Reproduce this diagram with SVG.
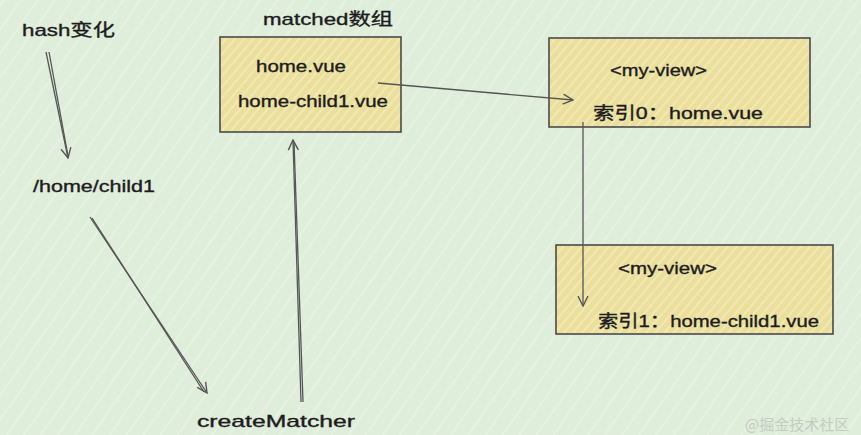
<svg xmlns="http://www.w3.org/2000/svg" width="861" height="435" viewBox="0 0 861 435">
  <defs>
    <pattern id="bgHatch" patternUnits="userSpaceOnUse" width="14" height="14" patternTransform="rotate(-55)">
      <rect width="14" height="14" fill="#dfeddb"/>
      <line x1="0" y1="3" x2="14" y2="3" stroke="#eef6ea" stroke-width="1"/>
    </pattern>
    <pattern id="boxHatch" patternUnits="userSpaceOnUse" width="7" height="7" patternTransform="rotate(-50)">
      <rect width="7" height="7" fill="#ebdf9c"/>
      <line x1="0" y1="2" x2="7" y2="2" stroke="#f4ecbd" stroke-width="1.5"/>
    </pattern>
    <marker id="arrow" viewBox="0 0 12 12" refX="11" refY="6" markerWidth="12" markerHeight="12" markerUnits="userSpaceOnUse" orient="auto">
      <path d="M1,1 L11,6 L1,11" fill="none" stroke="#555" stroke-width="1.4"/>
    </marker>
  </defs>
  <style>
    .t { font-family: "Liberation Sans", "Noto Sans CJK SC", sans-serif; font-size: 17px; fill: #1c1c1c; stroke: #1c1c1c; stroke-width: 0.35; }
    .box { fill: url(#boxHatch); stroke: #4a4a4a; stroke-width: 1.6; }
    .ln { fill: none; stroke: #555; stroke-width: 1.3; }
    .wm { font-family: "Noto Sans CJK SC", sans-serif; font-size: 15px; fill: #c3ccc1; }
  </style>
  <rect width="861" height="435" fill="url(#bgHatch)"/>

  <g id="hash">
    <text class="t" x="22" y="36" textLength="93" lengthAdjust="spacingAndGlyphs">hash变化</text>
  </g>
  <g id="path">
    <text class="t" x="33" y="192" textLength="122" lengthAdjust="spacingAndGlyphs">/home/child1</text>
  </g>
  <g id="matched">
    <text class="t" x="263" y="25" textLength="130" lengthAdjust="spacingAndGlyphs">matched数组</text>
    <rect class="box" x="220" y="37" width="181" height="95"/>
    <text class="t" x="256" y="72" textLength="90" lengthAdjust="spacingAndGlyphs">home.vue</text>
    <text class="t" x="238" y="107" textLength="150" lengthAdjust="spacingAndGlyphs">home-child1.vue</text>
  </g>
  <g id="view0">
    <rect class="box" x="549" y="38" width="261" height="89"/>
    <text class="t" x="610" y="76" textLength="97" lengthAdjust="spacingAndGlyphs">&lt;my-view&gt;</text>
    <text class="t" x="593" y="119" textLength="170" lengthAdjust="spacingAndGlyphs">索引0：home.vue</text>
  </g>
  <g id="view1">
    <rect class="box" x="556" y="245" width="277" height="89"/>
    <text class="t" x="618" y="274" textLength="99" lengthAdjust="spacingAndGlyphs">&lt;my-view&gt;</text>
    <text class="t" x="598" y="327" textLength="221" lengthAdjust="spacingAndGlyphs">索引1：home-child1.vue</text>
  </g>
  <g id="createMatcher">
    <text class="t" x="197" y="427" textLength="158" lengthAdjust="spacingAndGlyphs">createMatcher</text>
  </g>

  <g id="connectors">
    <line class="ln" x1="46" y1="52" x2="68" y2="158" marker-end="url(#arrow)"/>
    <line class="ln" x1="49" y1="52" x2="68" y2="156"/>
    <line class="ln" x1="90" y1="217" x2="207" y2="393" marker-end="url(#arrow)"/>
    <line class="ln" x1="92" y1="218" x2="204" y2="392"/>
    <line class="ln" x1="301" y1="402" x2="293" y2="140" marker-end="url(#arrow)"/>
    <line class="ln" x1="303" y1="402" x2="294" y2="142"/>
    <line class="ln" x1="378" y1="83" x2="573" y2="100" marker-end="url(#arrow)"/>
    <line class="ln" x1="583" y1="122" x2="583" y2="306" marker-end="url(#arrow)"/>
  </g>

  <text class="wm" x="745" y="430">@掘金技术社区</text>
</svg>
